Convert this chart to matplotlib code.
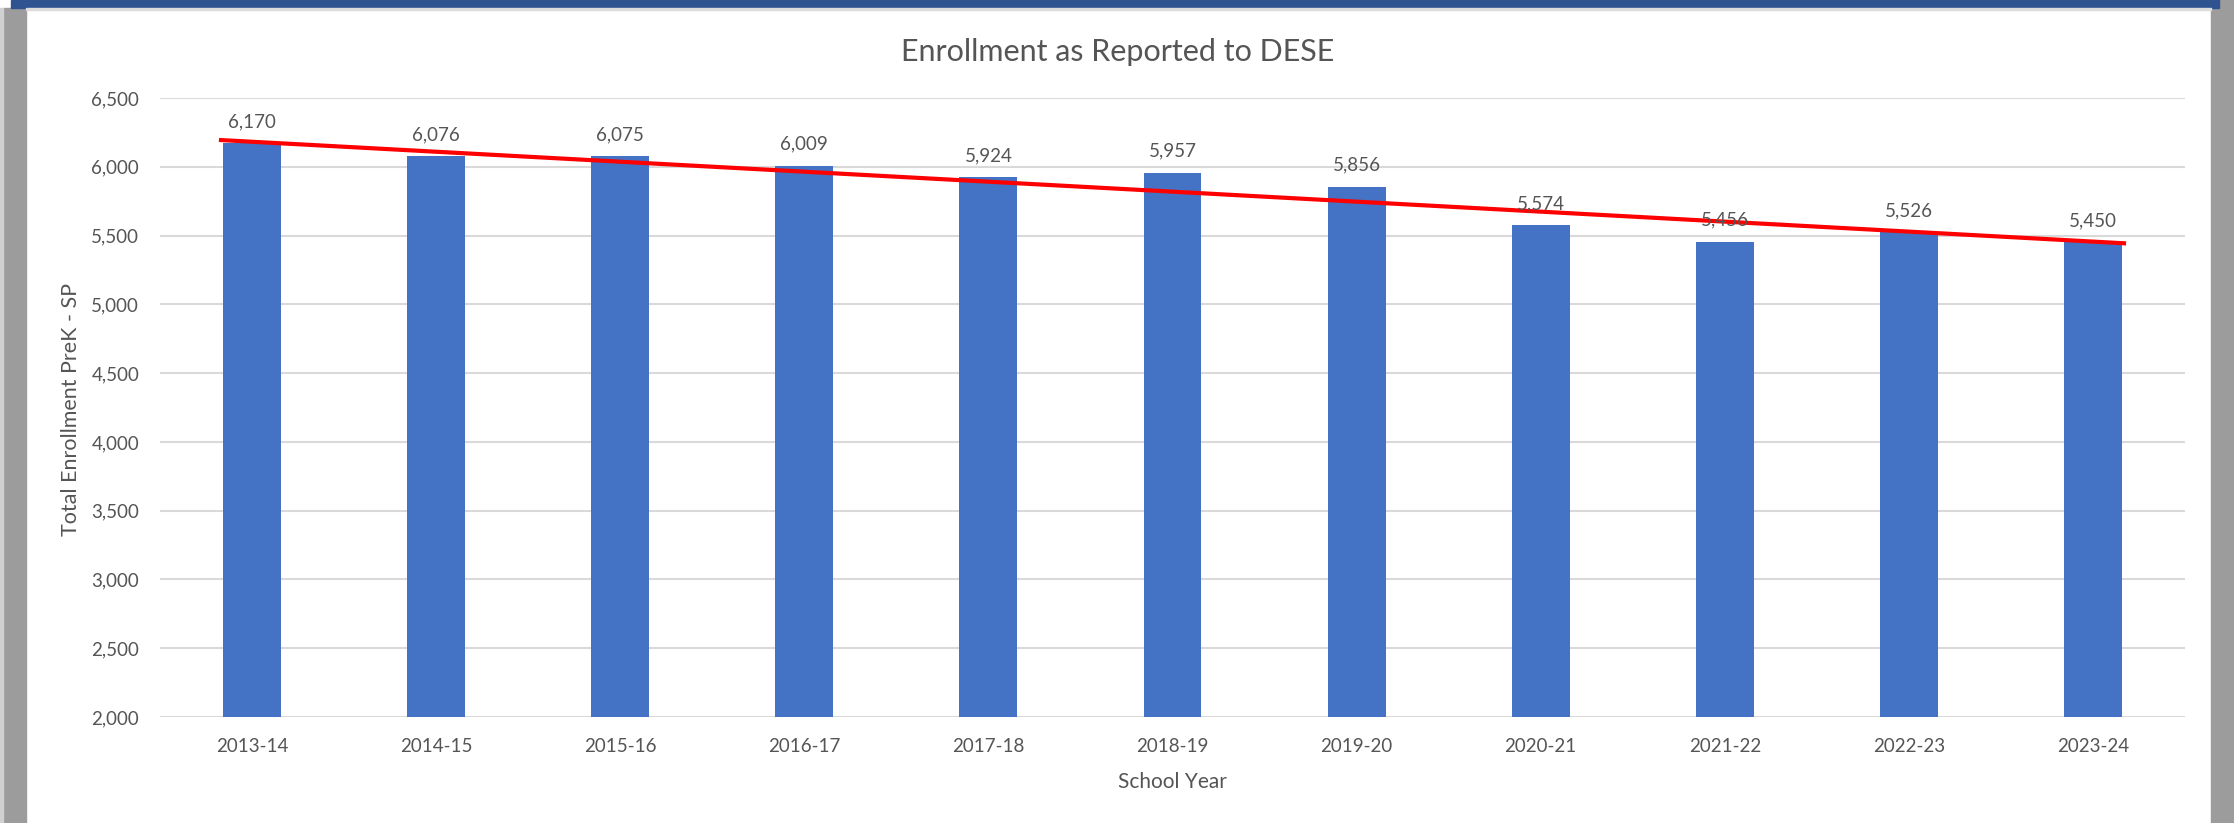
import numpy as np
import matplotlib
matplotlib.use("Agg")
import matplotlib.pyplot as plt
from matplotlib.patches import Rectangle
from matplotlib.ticker import FuncFormatter

years = ["2013-14", "2014-15", "2015-16", "2016-17", "2017-18", "2018-19",
         "2019-20", "2020-21", "2021-22", "2022-23", "2023-24"]
enrollment = [6170, 6076, 6075, 6009, 5924, 5957, 5856, 5574, 5456, 5526, 5450]
trend_values = [6195, 5443]          # trend line ends
y_ticks = [2000, 2500, 3000, 3500, 4000, 4500, 5000, 5500, 6000, 6500]

title = "Enrollment as Reported to DESE"
x_title = "School Year"
y_title = "Total Enrollment PreK - SP"

W, H = 2234, 823
plt.rcParams['font.family'] = ['Lato', 'DejaVu Sans']
txt = "#555555"

fig = plt.figure(figsize=(W / 100, H / 100), dpi=100)

# frame decoration
fig.patches.append(Rectangle((0, 0), 1, 1, transform=fig.transFigure, color="white", zorder=-10))
fig.patches.append(Rectangle((3 / W, 0), 23 / W, 1 - 8 / H, transform=fig.transFigure,
                             color="#9c9c9c", zorder=-5))
fig.patches.append(Rectangle((0, 0), 3 / W, 1 - 8 / H, transform=fig.transFigure,
                             color="#d0d0d0", zorder=-5))
fig.patches.append(Rectangle((2211 / W, 0), 23 / W, 1, transform=fig.transFigure,
                             color="#9c9c9c", zorder=-5))
fig.patches.append(Rectangle((11 / W, 1 - 8 / H), 2208 / W, 8 / H, transform=fig.transFigure,
                             color="#2f5391", zorder=-4))
fig.patches.append(Rectangle((26 / W, 1 - 10 / H), 2185 / W, 2 / H, transform=fig.transFigure,
                             color="#dcdcdc", zorder=-4))

ax = fig.add_axes([160 / W, 1 - 717 / H, (2185 - 160) / W, (717 - 98) / H])
x = np.arange(len(years))
ax.bar(x, enrollment, width=0.315, color="#4472C4", zorder=3)
for xi, v in zip(x, enrollment):
    ax.annotate(f"{v:,}", (xi, v), xytext=(0, 11.5), textcoords="offset points",
                ha="center", va="baseline", fontsize=13.5, color=txt, zorder=5)

ax.plot([x[0] - 0.18, x[-1] + 0.18], trend_values, color="#FF0000", lw=3, zorder=4,
        solid_capstyle="butt")

ax.set_xlim(-0.5, len(years) - 0.5)
ax.set_ylim(y_ticks[0], y_ticks[-1])
ax.set_yticks(y_ticks)
ax.yaxis.set_major_formatter(FuncFormatter(lambda v, p: f"{int(v):,}"))
ax.set_xticks(x)
ax.set_xticklabels(years)
ax.grid(axis="y", color="#D9D9D9", lw=1.5, zorder=0)
ax.set_axisbelow(True)
for s in ax.spines.values():
    s.set_visible(False)
ax.tick_params(axis="both", length=0, labelsize=13.5, labelcolor=txt)
ax.tick_params(axis="x", pad=15)
ax.tick_params(axis="y", pad=15)

fig.text(1118 / W, 1 - 52 / H, title, ha="center", va="center", fontsize=22, color=txt)
fig.text(1172 / W, 1 - 782 / H, x_title, ha="center", va="center", fontsize=15, color=txt)
fig.text(71 / W, 1 - 409 / H, y_title, ha="center", va="center", rotation=90,
         fontsize=15.5, color=txt)

fig.savefig("out.png", dpi=100)
